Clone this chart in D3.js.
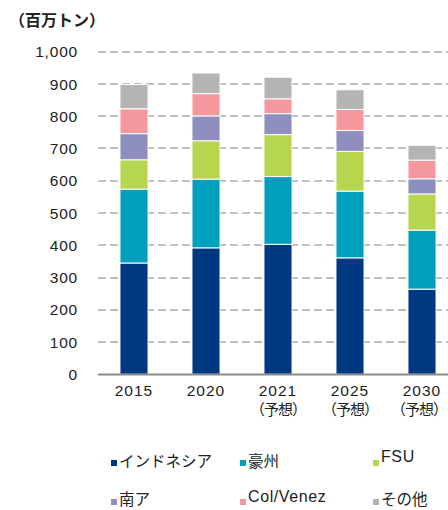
<!DOCTYPE html>
<html><head><meta charset="utf-8">
<script src="https://cdn.jsdelivr.net/npm/d3@7"></script>
<style>
html,body{margin:0;padding:0;background:#fff;}
svg{display:block;}
text{font-family:"Liberation Sans","Noto Sans CJK JP",sans-serif;fill:#222;}
.jp{font-family:"Noto Sans CJK JP",sans-serif;}
</style></head>
<body>
<svg id="chart" width="448" height="510"></svg>
<script>
const categories = ["2015","2020","2021","2025","2030"];
const subLabels = ["","","（予想）","（予想）","（予想）"];
const seriesNames = ["インドネシア","豪州","FSU","南ア","Col/Venez","その他"];
const seriesColors = ["#003882","#00A0BD","#B8D54F","#8F8FBF","#F5989D","#B4B4B4"];
const indonesia = [345, 392, 403, 361, 264];
const australia = [229, 213, 210, 207, 183];
const fsu       = [ 91, 119, 130, 123, 112];
const southAfrica=[ 81,  77,  65,  65,  47];
const colVenez  = [ 77,  69,  46,  65,  58];
const others    = [ 75,  64,  67,  61,  46];
const yTicks = [0,100,200,300,400,500,600,700,800,900,1000];

const seriesValues = [indonesia, australia, fsu, southAfrica, colVenez, others];
const rows = categories.map((c,i)=>{
  const r = {cat:c};
  seriesNames.forEach((s,j)=>r[s]=seriesValues[j][i]);
  return r;
});

const svg = d3.select("#chart");
const x = d3.scaleBand().domain(categories).range([98,458]).paddingInner(0.61).paddingOuter(0.305);
const y = d3.scaleLinear().domain([0,1000]).range([374.3,51.7]);

// grid
svg.append("g").selectAll("line").data(yTicks.filter(d=>d>0)).join("line")
  .attr("x1",98).attr("x2",448)
  .attr("y1",d=>Math.round(y(d))).attr("y2",d=>Math.round(y(d)))
  .attr("stroke","#c0c0c0").attr("stroke-width",2).attr("stroke-dasharray","8,4");

// y labels
svg.append("g").selectAll("text").data(yTicks).join("text")
  .attr("x",78).attr("y",d=>y(d)).attr("dy","0.36em")
  .attr("text-anchor","end").attr("font-size",15.5).attr("letter-spacing",0.8)
  .text(d=>d3.format(",")(d));

// stacks
const stack = d3.stack().keys(seriesNames)(rows);
svg.append("g").selectAll("g").data(stack).join("g")
  .attr("fill",(d,i)=>seriesColors[i])
  .selectAll("rect").data(d=>d).join("rect")
  .attr("x",d=>x(d.data.cat)).attr("width",x.bandwidth())
  .attr("y",d=>y(d[1])).attr("height",d=>y(d[0])-y(d[1]))
  .attr("stroke","#fff").attr("stroke-width",1);

// baseline
svg.append("line").attr("x1",98).attr("x2",448).attr("y1",374.5).attr("y2",374.5)
  .attr("stroke","#8c8c8c").attr("stroke-width",2);

// x labels
const xl = svg.append("g").selectAll("g").data(categories).join("g");
xl.append("text").attr("x",d=>x(d)+x.bandwidth()/2).attr("y",395.5)
  .attr("text-anchor","middle").attr("font-size",15.5).attr("letter-spacing",1)
  .text(d=>d);
xl.filter((d,i)=>subLabels[i]).append("text").attr("class","jp")
  .attr("x",d=>Math.min(x(d)+x.bandwidth()/2, 419))
  .attr("y",415)
  .attr("text-anchor","middle").attr("font-size",15).attr("letter-spacing",-1)
  .text((d)=>subLabels[categories.indexOf(d)]);

// title
svg.append("text").attr("class","jp").attr("x",9).attr("y",26)
  .attr("font-size",16).attr("font-weight","bold").attr("fill","#111").text("（百万トン）");

// legend
const legX = [111,240,373];
const legRowY = [466,505];
const legTextY = [[467,467,462],[505,502,505]];
const lg = svg.append("g").selectAll("g").data(seriesNames).join("g");
lg.append("rect")
  .attr("x",(d,i)=>legX[i%3]).attr("y",(d,i)=>legRowY[Math.floor(i/3)]-6)
  .attr("width",6).attr("height",6).attr("fill",(d,i)=>seriesColors[i]);
lg.append("text").attr("class",(d,i)=>(i===2||i===4)?"":"jp")
  .attr("x",(d,i)=>legX[i%3]+8).attr("y",(d,i)=>legTextY[Math.floor(i/3)][i%3])
  .attr("font-size",(d,i)=>(i===2||i===4)?16:15.5).attr("letter-spacing",(d,i)=>(i===2||i===4)?0.6:0)
  .text(d=>d);
</script>
</body></html>
